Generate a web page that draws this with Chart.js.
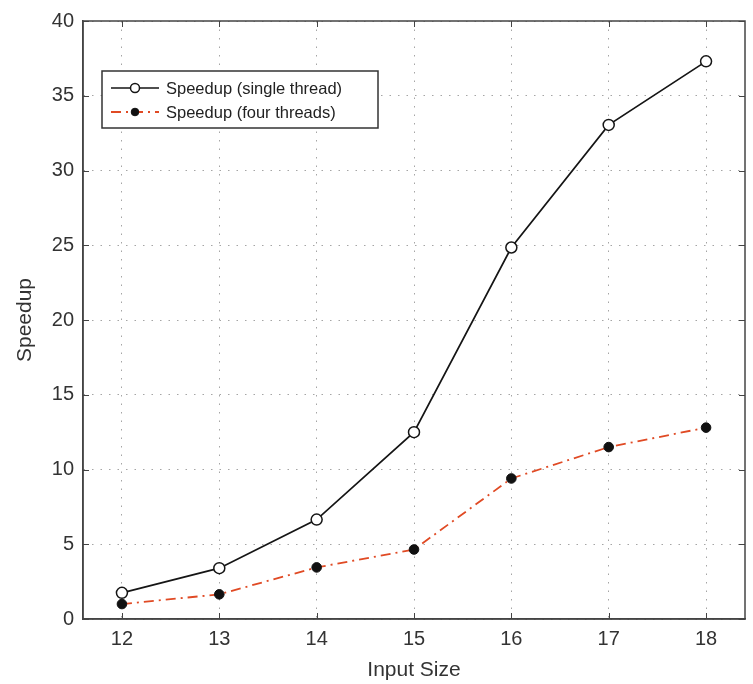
<!DOCTYPE html>
<html>
<head>
<meta charset="utf-8">
<script src="https://cdn.jsdelivr.net/npm/chart.js@4/dist/chart.umd.min.js"></script>
<style>
  html, body { margin: 0; padding: 0; background: #fff; }
  #wrap { width: 753px; height: 684px; }
</style>
</head>
<body>
<div id="wrap"><canvas id="speedChart" width="753" height="684"></canvas></div>
<script>
var inputSizes = [12, 13, 14, 15, 16, 17, 18];
var singleThread = [1.75, 3.4, 6.65, 12.5, 24.85, 33.05, 37.3];
var fourThreads = [1.0, 1.65, 3.45, 4.65, 9.4, 11.5, 12.8];
var xTicks = [12, 13, 14, 15, 16, 17, 18];
var yTicks = [0, 5, 10, 15, 20, 25, 30, 35, 40];
var seriesLabels = ['Speedup (single thread)', 'Speedup (four threads)'];

var FONT = '"Liberation Sans", Arial, Helvetica, sans-serif';

function toPoints(values) {
    return inputSizes.map(function (x, i) { return { x: x, y: values[i] }; });
}

// frame, inward tick marks and the boxed legend
var framePlugin = {
    id: 'frame',
    afterDatasetsDraw: function (chart) {
        var ctx = chart.ctx;
        var a = chart.chartArea;
        var xs = chart.scales.x, ys = chart.scales.y;
        ctx.save();
        ctx.strokeStyle = '#444';
        ctx.lineWidth = 1.5;
        ctx.strokeRect(a.left, a.top, a.right - a.left, a.bottom - a.top);
        ctx.lineWidth = 1;
        ctx.beginPath();
        xTicks.forEach(function (v) {
            var px = Math.round(xs.getPixelForValue(v)) + 0.5;
            ctx.moveTo(px, a.bottom); ctx.lineTo(px, a.bottom - 6);
            ctx.moveTo(px, a.top); ctx.lineTo(px, a.top + 6);
        });
        yTicks.forEach(function (v) {
            var py = Math.round(ys.getPixelForValue(v)) + 0.5;
            ctx.moveTo(a.left, py); ctx.lineTo(a.left + 6, py);
            ctx.moveTo(a.right, py); ctx.lineTo(a.right - 6, py);
        });
        ctx.stroke();

        // legend
        var bx = 102, by = 71, bw = 276, bh = 57;
        ctx.fillStyle = '#fff';
        ctx.fillRect(bx, by, bw, bh);
        ctx.strokeStyle = '#333';
        ctx.lineWidth = 1.5;
        ctx.strokeRect(bx, by, bw, bh);
        chart.data.datasets.forEach(function (ds, i) {
            var cy = 88 + i * 24;
            ctx.save();
            ctx.strokeStyle = ds.borderColor;
            ctx.lineWidth = ds.borderWidth;
            ctx.setLineDash(ds.borderDash || []);
            ctx.beginPath();
            ctx.moveTo(111, cy); ctx.lineTo(159, cy);
            ctx.stroke();
            ctx.setLineDash([]);
            ctx.beginPath();
            ctx.arc(135, cy, ds.pointRadius - 1, 0, Math.PI * 2);
            ctx.fillStyle = ds.pointBackgroundColor;
            ctx.fill();
            ctx.strokeStyle = ds.pointBorderColor;
            ctx.lineWidth = ds.pointBorderWidth;
            ctx.stroke();
            ctx.restore();
            ctx.fillStyle = '#222';
            ctx.font = '16.5px ' + FONT;
            ctx.textBaseline = 'middle';
            ctx.fillText(ds.label, 166, cy + 1);
        });
        ctx.restore();
    }
};

var ctx = document.getElementById('speedChart').getContext('2d');
new Chart(ctx, {
    type: 'line',
    data: {
        datasets: [{
            label: seriesLabels[0],
            data: toPoints(singleThread),
            borderColor: '#151515',
            borderWidth: 1.7,
            pointRadius: 5.5,
            pointBackgroundColor: '#fff',
            pointBorderColor: '#151515',
            pointBorderWidth: 1.5,
            tension: 0
        }, {
            label: seriesLabels[1],
            data: toPoints(fourThreads),
            borderColor: '#e04a24',
            borderWidth: 1.8,
            borderDash: [10, 5, 2, 5],
            pointRadius: 4.8,
            pointBackgroundColor: '#111',
            pointBorderColor: '#111',
            pointBorderWidth: 1,
            tension: 0
        }]
    },
    options: {
        responsive: false,
        animation: false,
        layout: { padding: { top: 19, right: 8, left: 0, bottom: 0 } },
        plugins: {
            legend: { display: false },
            tooltip: { enabled: false }
        },
        scales: {
            x: {
                type: 'linear',
                min: 11.6,
                max: 18.4,
                afterBuildTicks: function (scale) {
                    scale.ticks = xTicks.map(function (v) { return { value: v }; });
                },
                afterFit: function (scale) { scale.height = 65; },
                grid: { color: '#a5a5a5', lineWidth: 1, drawTicks: false },
                border: { display: true, color: '#444', width: 1.5, dash: [1.5, 7] },
                ticks: {
                    padding: 8,
                    color: '#333',
                    font: { family: FONT, size: 20 }
                },
                title: {
                    display: true,
                    text: 'Input Size',
                    color: '#333',
                    padding: { top: 0, bottom: 1 },
                    font: { family: FONT, size: 21 }
                }
            },
            y: {
                min: 0,
                max: 40,
                afterBuildTicks: function (scale) {
                    scale.ticks = yTicks.map(function (v) { return { value: v }; });
                },
                afterFit: function (scale) { scale.width = 83; },
                grid: { color: '#a5a5a5', lineWidth: 1, drawTicks: false },
                border: { display: true, color: '#444', width: 1.5, dash: [1.5, 7] },
                ticks: {
                    padding: 9,
                    color: '#333',
                    font: { family: FONT, size: 20 }
                },
                title: {
                    display: true,
                    text: 'Speedup',
                    color: '#333',
                    padding: { top: 13, bottom: 0 },
                    font: { family: FONT, size: 21 }
                }
            }
        }
    },
    plugins: [framePlugin]
});
</script>
</body>
</html>
